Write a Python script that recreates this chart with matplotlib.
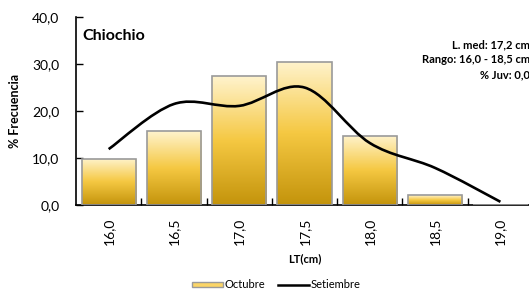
import numpy as np
import matplotlib
matplotlib.use('Agg')
import matplotlib.pyplot as plt
from matplotlib.path import Path
from matplotlib.patches import PathPatch, Rectangle
from matplotlib.colors import LinearSegmentedColormap
from matplotlib.legend_handler import HandlerBase
from matplotlib.lines import Line2D

plt.rcParams['font.family'] = ['Lato', 'DejaVu Sans']

## datos
tallas = ['16,0', '16,5', '17,0', '17,5', '18,0', '18,5', '19,0']
octubre = [9.8, 15.7, 27.4, 30.5, 14.7, 2.1, 0.0]
setiembre = [11.9, 21.5, 21.1, 25.0, 13.2, 7.9, 0.7]
yticks = [0, 10, 20, 30, 40]

cmap = LinearSegmentedColormap.from_list('oro', ['#c4940c', '#f5c842', '#fff3cc'])
grad = np.linspace(0, 1, 100).reshape(-1, 1)

fig = plt.figure(figsize=(5.29, 2.93), dpi=100)
ax = fig.add_axes([0.1437, 0.300, 0.864, 0.642])

x = np.arange(len(tallas))
ancho = 0.83
bars = ax.bar(x, octubre, width=ancho, color='none', edgecolor='#9a9a9a', linewidth=1.2, zorder=3)
for b in bars:
    h = b.get_height()
    if h <= 0:
        continue
    im = ax.imshow(grad, cmap=cmap, aspect='auto', origin='lower',
                   extent=[b.get_x(), b.get_x() + b.get_width(), 0, h], zorder=2)
    im.set_clip_path(b)

## linea suavizada tipo excel
pts = np.column_stack([x, setiembre]).astype(float)
verts = [tuple(pts[0])]
codes = [Path.MOVETO]
n = len(pts)
for i in range(n - 1):
    p0 = pts[i - 1] if i > 0 else pts[i]
    p1 = pts[i]
    p2 = pts[i + 1]
    p3 = pts[i + 2] if i + 2 < n else pts[i + 1]
    c1 = p1 + (p2 - p0) / 6
    c2 = p2 - (p3 - p1) / 6
    verts += [tuple(c1), tuple(c2), tuple(p2)]
    codes += [Path.CURVE4] * 3
ax.add_patch(PathPatch(Path(verts, codes), facecolor='none', edgecolor='black', lw=1.9, zorder=4))

ax.set_xlim(-0.5, 6.5)
ax.set_ylim(0, 40)
ax.set_yticks(yticks)
ax.set_yticklabels([('%.1f' % v).replace('.', ',') for v in yticks], fontsize=10)
ax.set_xticks(x)
ax.set_xticklabels(tallas, rotation=90, fontsize=10)
ax.set_xticks(np.arange(0.5, 6.5, 1), minor=True)
ax.tick_params(axis='x', which='major', length=0, pad=9)
ax.tick_params(axis='x', which='minor', direction='in', length=5, width=1)
ax.tick_params(axis='y', direction='in', length=5, width=1, pad=12)
ax.spines['top'].set_visible(False)
ax.spines['right'].set_visible(False)
ax.spines['left'].set_linewidth(1.2)
ax.spines['bottom'].set_linewidth(1.2)

ax.set_xlabel('LT(cm)', fontsize=8, fontweight='bold', labelpad=6)
ax.set_ylabel('% Frecuencia', fontsize=9, fontweight='bold', labelpad=8)

fig.text(82 / 529, 1 - 36 / 293, 'Chiochio', fontsize=11.5, fontweight='bold', va='center')
fig.text(530 / 529, 1 - 60 / 293, 'L. med: 17,2 cm\nRango: 16,0 - 18,5 cm\n% Juv: 0,0',
         fontsize=8, fontweight='bold', ha='right', va='center', multialignment='right',
         linespacing=1.45)

class GradHandler(HandlerBase):
    def create_artists(self, legend, orig, xd, yd, w, h, fs, trans):
        r = Rectangle((xd, yd + 1), w, h - 2, transform=trans, facecolor='#fbd567',
                      edgecolor='#9a9a9a', lw=1)
        return [r]

h1 = Rectangle((0, 0), 1, 1)
h2 = Line2D([0], [0], color='black', lw=1.8)
fig.legend([h1, h2], ['Octubre', 'Setiembre'], loc='center', bbox_to_anchor=(276 / 529, 1 - 285 / 293),
           ncol=2, frameon=False, fontsize=8, handlelength=2.8, handletextpad=0.1,
           columnspacing=1.2, handler_map={Rectangle: GradHandler()})

fig.savefig('out.png', dpi=100)
